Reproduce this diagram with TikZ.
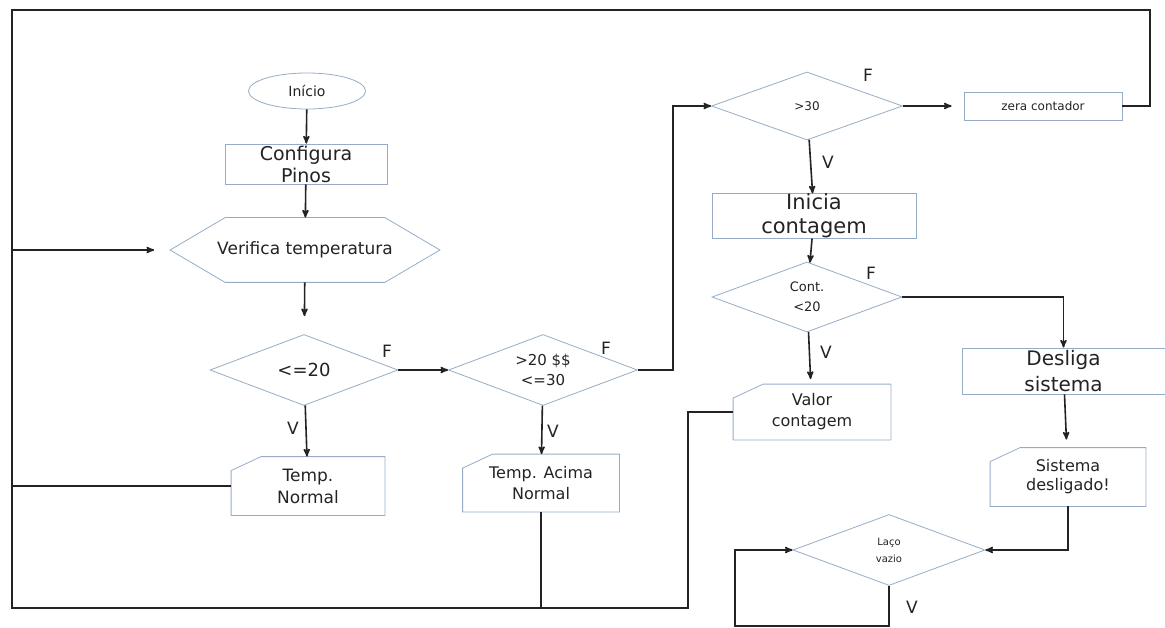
\documentclass[tikz,border=0pt]{standalone}
\usepackage{fontspec}
\setmainfont{DejaVu Sans}
\usetikzlibrary{arrows,shapes.geometric}
\newcommand\fsz[2]{\fontsize{#1}{#2}\selectfont}
\newcommand\cardline[1]{\draw[edgeline] ([yshift=-14pt]#1.north west) -- ([xshift=30pt]#1.north west) -- (#1.north east) -- (#1.south east) -- (#1.south west) -- cycle;}
\newcommand\hexline[1]{\draw[edgeline] (#1.west) -- ([xshift=55pt]#1.north west) -- ([xshift=-55pt]#1.north east) -- (#1.east) -- ([xshift=-55pt]#1.south east) -- ([xshift=55pt]#1.south west) -- cycle;}
\definecolor{shape_blue}{RGB}{150,172,198}
\definecolor{line_gray}{RGB}{35,35,35}
\definecolor{text_gray}{RGB}{35,35,35}

\begin{document}
\begin{tikzpicture}[x=1pt,y=-1pt,>=stealth']
    \tikzstyle{block}=[draw=shape_blue, line width=0.8pt, text=text_gray, align=center, inner sep=0pt]
    \tikzstyle{procbox}=[style=block, rectangle]
    \tikzstyle{decision}=[style=block, diamond, aspect=2.7]
    \tikzstyle{start}=[style=block, ellipse]
    \tikzstyle{plain}=[style=block, draw=none]
    \tikzstyle{edgeline}=[-, draw=shape_blue, line width=0.8pt]
    \tikzstyle{lbl}=[text=text_gray, font=\fsz{17}{19}]
    \tikzstyle{flow}=[->, line width=1.6pt, draw=line_gray]
    \tikzstyle{wire}=[-, line width=1.6pt, draw=line_gray]

    \useasboundingbox (0,0) rectangle (1165,628);

    \node[start, minimum width=117pt, minimum height=36pt, font=\fsz{14}{16}] (ini) at (307,91) {Início};
    \node[procbox, minimum width=162pt, minimum height=40pt, font=\fsz{19}{22}] (cfg) at (306,164) {Configura\\Pinos};
    \node[plain, minimum width=269pt, minimum height=64pt, font=\fsz{17}{19}] (vt) at (305,250) {Verifica temperatura};
    \hexline{vt}
    \node[decision, minimum width=188pt, minimum height=71pt, font=\fsz{18}{20}] (le20) at (304,370) {<=20};
    \node[plain, minimum width=153pt, minimum height=58pt, font=\fsz{17}{22}] (tn) at (308,486) {Temp.\\Normal};
    \cardline{tn}
    \node[decision, minimum width=189pt, minimum height=71pt, font=\fsz{15}{20}] (mid) at (543,370) {>20 \$\$\\<=30};
    \node[plain, minimum width=156pt, minimum height=57pt, font=\fsz{16}{21}] (ta) at (541,483) {Temp. Acima\\Normal};
    \cardline{ta}
    \node[decision, minimum width=191pt, minimum height=68pt, font=\fsz{12}{14}] (gt30) at (807,106) {>30};
    \node[procbox, minimum width=158pt, minimum height=28pt, font=\fsz{12}{14}] (zc) at (1043,106) {zera contador};
    \node[procbox, minimum width=204pt, minimum height=44pt, font=\fsz{21}{24}] (ic) at (814,216) {Inicia\\contagem};
    \node[decision, minimum width=190pt, minimum height=70pt, font=\fsz{13}{20}] (cnt) at (807,297) {Cont.\\<20};
    \node[plain, minimum width=157pt, minimum height=55pt, font=\fsz{16}{21}] (vc) at (812,412) {Valor\\contagem};
    \cardline{vc}
    \node[procbox, minimum width=203pt, minimum height=46pt, font=\fsz{20}{26}] (ds) at (1063.5,371) {Desliga\\sistema};
    \node[plain, minimum width=155pt, minimum height=58pt, font=\fsz{16}{19}] (sd) at (1068,477) {Sistema\\desligado!};
    \cardline{sd}
    \node[decision, minimum width=192pt, minimum height=71pt, font=\fsz{10}{17}] (lv) at (889,550) {Laço\\vazio};

    \node[lbl] (fA) at (387,351) {F};
    \node[lbl] (vA) at (293,428) {V};
    \node[lbl] (fB) at (606,348) {F};
    \node[lbl] (vB) at (553,431) {V};
    \node[lbl] (fC) at (868,75)  {F};
    \node[lbl] (vC) at (828,162) {V};
    \node[lbl] (fD) at (871,273) {F};
    \node[lbl] (vD) at (826,352) {V};
    \node[lbl] (vE) at (912,607) {V};

    \coordinate (cTR) at (1150,10);
    \coordinate (cTL) at (12,10);
    \coordinate (cBL) at (12,608);
    \coordinate (cBR) at (688,608);
    \coordinate (lvL) at (735,626);

    \path
     (ini)  edge[flow] (cfg)
     (cfg)  edge[flow] (vt)
     (vt)   edge[flow, shorten >=18pt] (le20)
     (le20) edge[flow] (tn)
     (le20.east) edge[flow] (mid.west)
     (mid)  edge[flow] (ta)
     (gt30.east) edge[flow, shorten >=12pt] (zc.west)
     (gt30) edge[flow] (ic)
     (ic)   edge[flow] (cnt)
     (cnt)  edge[flow, shorten >=5pt] (vc)
     (ds)   edge[flow, shorten >=8pt] (sd)
     ;
    \draw[flow] (mid.east) -- ++(35,0) |- (gt30.west);
    \draw[flow] (cnt.east) -| (ds.north);
    \draw[flow] (sd.south) |- (lv.east);
    \draw[flow] (lv.south) |- (lvL) |- (lv.west);
    \draw[wire] (zc.east) -| (cTR) -- (cTL) -- (cBL) -- (cBR) |- (vc.west);
    \draw[flow, shorten >=16pt] (cTL |- vt.west) -- (vt.west);
    \draw[wire] (tn.west) -- (cTL |- tn.west);
    \draw[wire] (ta.south) -- (ta.south |- cBL);
\end{tikzpicture}
\end{document}
